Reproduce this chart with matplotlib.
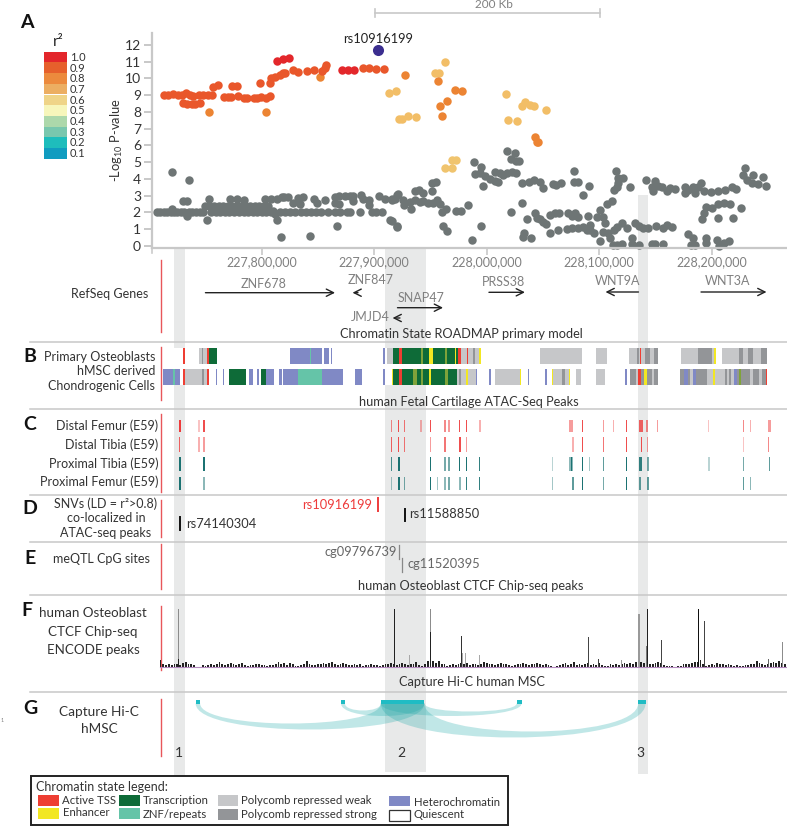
import matplotlib
matplotlib.use('Agg')
import matplotlib.pyplot as plt
import numpy as np
from matplotlib.colors import to_rgba
from matplotlib.patches import Rectangle, PathPatch
from matplotlib.path import Path
from matplotlib.ticker import FuncFormatter

plt.rcParams['font.family'] = ['Lato', 'DejaVu Sans']
plt.rcParams['mathtext.default'] = 'regular'

# all positions are kb from 227,800,000
START = 227800000

# panel A, association signal
gray_pos = [-93, -90, -87, -84, -81, -78, -75, -72, -69, -65, -62, -58, -55, -52, -80, -66, -49, -46.5, -80, -65, -69.6, -66.7,
            -50, -46, -42, -38, -34, -30, -26, -22, -18, -14, -10, -6, -2, 2, 6,
            -45, -41, -37, -33, -29, -25, -20, -16, -12, -8, -4, 0, 4, 8, 10, 12, 13.3,
            -28, -21.6, -15.7, 3, 8, 13.3, 17.8, 23, 27.5, 20, 32.6, 37, 34, 46.5, 49.5, 56, 65, 69, 74, 78.5, 81.5, 65, 69, 81, 88, 90, 95, 95.7,
            16, 21, 25, 30, 34.5, 39, 43.5, 48, 53, 59, 65, 69.6, 75.6, 78.5, 87.4, 98, 102, 106.7,
            17, 43, 66.7, 114, 120, 104.6, 109.6, 115.6, 120,
            115.6, 121.5, 118.5, 126, 126.7, 132.4, 131.9, 136.3, 140.7, 143.7, 148, 152, 156, 158.5, 160, 164,
            136.3, 140, 143.7, 151, 155, 151, 172.7, 177, 183, 115.6, 120.6, 161, 164.4, 194.7, 186.7,
            188.7, 194.7, 189.6, 194, 198.5, 203, 207.4, 210.4, 196.4, 207.4, 211.9, 214.8, 218.4, 222.2, 226,
            217.8, 225, 222, 226, 229, 231, 238, 242, 247.4, 250.4, 259.3, 262, 265.8,
            277.6, 277.6, 281.5, 291, 286, 231.4, 222, 236, 243, 244.4, 247.4, 250.4, 253, 256.3, 260.7, 264.3, 272.6, 278.5, 275.5, 281.5,
            289.8, 300.7, 297.8, 303.7, 305, 306.7, 311, 233.5, 232.6, 239.4, 256.3, 263.7, 271, 275.5, 281.5, 286, 292, 295.4, 292, 289,
            300.7, 303.7, 308, 309.6, 312.6, 315.6, 320, 313, 315.6, 320, 324.4, 332, 335, 339.3, 343, 350.5, 357, 360, 364.4,
            329.6, 329, 335, 346.7, 349.6, 356.4, 315, 317, 321.5, 316.4, 315.6, 313, 327.4,
            342, 349.6, 346.7, 348, 352.6, 355.6, 360, 363, 367.4, 376.3, 376.3, 379, 383.7, 385, 390.5, 388, 393, 399, 406, 412, 418, 422,
            430, 428, 437, 446, 431, 435.5, 441.5, 448.3, 406, 410.7, 416, 394.6, 400.6, 393, 391, 406, 419, 426,
            379, 383, 385, 382, 394.6, 394.6, 405, 406.7, 411, 415.6]
gray_logp = [2, 2, 2, 2, 2, 2, 2, 2, 2, 2, 2, 2, 2, 2, 2.2, 1.8, 1.55, 2.8, 4.42, 3.9, 2.7, 2.65,
             2.4, 2.4, 2.4, 2.4, 2.4, 2.4, 2.4, 2.4, 2.4, 2.4, 2.4, 2.4, 2.4, 2.4, 2.4,
             2, 2, 2, 2, 2, 2, 2, 2, 2, 2, 2, 2, 2, 2, 2.1, 1.9, 1.55,
             2.82, 2.8, 2.75, 2.8, 2.8, 2.8, 2.9, 2.9, 2.55, 2.9, 2.85, 2.9, 2.5, 2.8, 2.55, 2.75, 2.9, 2.95, 2.95, 3, 2.95, 2.55, 2.5, 2.65, 3.05, 2.8, 2.75, 2.45,
             2, 2, 2, 2, 2, 2, 2, 2, 2, 2, 2, 2, 2, 2, 2, 2, 2, 2,
             0.5, 0.57, 1.15, 1.55, 1.15, 2.95, 2.8, 2.8, 3.05,
             2.73, 3.1, 2.8, 2.73, 2.43, 2.17, 2.63, 2.73, 2.6, 2.67, 2.57, 2.53, 2.73, 2.5, 2.03, 2.17,
             3.27, 3.33, 3.17, 3.29, 3.78, 3.72, 2.09, 2.05, 2.43, 1.5, 1.14, 1.2, 0.9, 1.2, 0.36,
             5, 4.68, 4.28, 4.32, 4.18, 4, 3.86, 3.82, 3.59, 4.38, 4.36, 4.22, 4.32, 4.38, 4.34,
             5.66, 5.52, 5.18, 5.08, 5.04, 3.76, 3.78, 3.92, 3.82, 3.43, 3.69, 3.63, 3.73,
             4.48, 3.82, 3.82, 3.57, 3.03, 2.57, 2.01, 1.59, 1.93, 1.63, 1.59, 1.43, 1.29, 1.83, 1.93, 1.93, 1.93, 1.93, 1.77, 1.69,
             1.79, 2.13, 1.69, 1.73, 1.33, 2.49, 2.65, 0.78, 0.5, 0.44, 0.74, 0.94, 1, 1.04, 1.04, 1.14, 1.24, 0.74, 0.94, 0.94,
             0.3, 0.84, 0.74, 0.44, 0.04, 0.04, 0.08, 0.94, 1.14, 1.37, 1.04, 1.37, 1.18, 1.04, 1.08, 1.2, 1.04, 1.24, 1.1,
             0.48, 0.08, 0.04, 0.08, 0.08, 0.08, 4.46, 4.06, 4.02, 3.76, 3.49, 3.33, 3.49,
             3.9, 3.86, 3.53, 3.29, 3.59, 3.49, 3.29, 3.47, 3.39, 3.53, 3.13, 3.33, 3.49, 3.13, 3.73, 3.49, 3.29, 3.23, 3.29, 3.33, 3.53, 3.39,
             4.62, 4.22, 4.22, 4.12, 3.92, 3.76, 3.67, 3.59, 2.49, 2.53, 2.49, 2.33, 2.27, 1.93, 1.59, 1.65, 1.65, 2.23,
             0.7, 0.44, 0.04, 0.04, 0.44, 0.14, 0.34, 0, 0.18, 0.26]

r10_pos = [14, 19, 24, 71, 77, 82]
r10_logp = [11.05, 11.15, 11.2, 10.5, 10.5, 10.5]
r09_pos = [-86.8, -83, -78.5, -74, -71, -67, -64, -61, -56, -52, -48, -44, -70, -66, -62, -59, -55, -43, -38.5,
           -33.5, -30, -27, -21.5, -16, -13, -26, -22, -7, -4, -1, 3.5, 7.5, -1.5, 7.5, 8, 12, 16, 19, 21,
           27.5, 32.5, 40, 46.5, 53.5, 57, 56, 90, 95, 101.5, 109]
r09_logp = [9, 9, 9.05, 9, 9, 9.15, 9, 8.95, 9, 9, 9, 9, 8.5, 8.45, 8.45, 8.45, 8.5, 9.5, 9.6,
            8.9, 8.9, 8.9, 8.95, 8.85, 8.85, 9.55, 9.55, 8.85, 8.85, 8.9, 8.85, 8.95, 9.7, 9.7, 10, 10.1, 10.2, 10.3, 10.3,
            10.5, 10.4, 10.45, 10.5, 10.45, 10.8, 10.6, 10.6, 10.6, 10.55, 10.57]
r08_pos = [-47, 3.5, 52, 127.4, 156.4, 171.6, 177.8, 164.4, 158.5, 160.6, 243, 244.4, 246]
r08_logp = [8, 8, 10.1, 10.2, 9.85, 9.3, 9.25, 8.67, 8.37, 7.77, 6.5, 6.2, 6.2]
r07_pos = [113, 119, 122, 124.4, 129.8, 136.9, 163, 154, 157.6, 216.9, 219.3, 226.7, 231, 234, 238.5, 242, 252.7]
r07_logp = [9.1, 9.25, 7.6, 7.6, 7.77, 7.68, 11, 10.3, 10.3, 9.07, 7.5, 7.43, 8.35, 8.58, 8.43, 8.37, 8.1]
r06_pos = [163, 169, 169.5, 172.5]
r06_logp = [4.67, 4.63, 5.13, 5.15]
lead_pos = [103.7]
lead_logp = [11.7]

r2_labels = ['1.0', '0.9', '0.8', '0.7', '0.6', '0.5', '0.4', '0.3', '0.2', '0.1']
r2_colors = ['#E3262B', '#E6602C', '#EC8A3D', '#ECAE62', '#EFD488', '#F7F6BB', '#ADD8AB', '#79C7AE', '#1EBDBC', '#109CC0']

gene_names = ['ZNF678', 'ZNF847', 'SNAP47', 'JMJD4', 'PRSS38', 'WNT9A', 'WNT3A']
gene_from = [-50, 85.6, 120.7, 122.9, 202, 334.9, 390.5]
gene_to = [65.2, 80.7, 161.2, 116.3, 234, 305.6, 448.7]

# panel B, chromatin states, later rows in a list paint over earlier ones
state_colors = {'T': '#EE3E33', 'Y': '#F2E722', 'G': '#0E6B38', 'Z': '#65C4A8', 'L': '#C6C7C9',
                'D': '#939598', 'H': '#8089C5', 'O': '#7FA33A'}
osteo_start = [-69.9, -55.4, -53.3, -48.3, -46.8, 25.2, 43, 55.4, 61.3, 107.6, 111.7, 116.4, 122.4, 141.3, 149, 150.5, 163, 172, 174.8, 176.9,
               182.2, 187.5, 193.5, 247.4, 297.5, 326.8, 333.3, 336.3, 340.7, 348.7, 372.4, 388, 402, 408.9, 424.6, 432.6, 443.9]
osteo_end = [-68.4, -48.3, -51.9, -46.8, -40, 53.3, 44.1, 59.9, 62.8, 109.6, 116.4, 174.8, 124.4, 143.7, 150.2, 152.6, 164.4, 172.7, 176.9, 193.5,
             183, 189.3, 194.7, 284.7, 307, 352, 335.7, 336.9, 345.2, 352, 402, 400, 403.6, 449.5, 428.1, 437, 449.5]
osteo_state = ['T', 'L', 'D', 'T', 'G', 'H', 'Z', 'H', 'H', 'H', 'L', 'G', 'T', 'O', 'Y', 'Y', 'O', 'Y', 'T', 'L',
               'T', 'D', 'Y', 'L', 'L', 'L', 'D', 'T', 'D', 'D', 'L', 'D', 'Y', 'L', 'D', 'D', 'D']
chondro_start = [-88, -78.5, -70.2, -68.1, -53.3, -48.9, -40.9, -34.7, -28.7, -11.6, -3.9, -0.6, 4.1, 15.4, 19, 32.6, 53.6, 83.3, 107.6, 116.1, 117, 122.4,
                 124.4, 134.8, 141.3, 149, 163, 173.3, 175.1, 181.6, 183, 190.2, 201.8, 207.4, 229.6, 236.7, 251.9, 258, 258.9, 267, 273.5, 279.4, 297.2,
                 323, 327.4, 332.4, 334.8, 339.9, 346.7, 371.9, 375, 380.7, 383.7, 395.6, 401.5, 403.3, 413.3, 416.9, 420.1, 424.6, 434, 442.3, 448.4]
chondro_end = [-72.3, -77, -68.1, -48.9, -51, -47.1, -39.4, -33.2, -14.2, -8, -2.4, 4.1, 11, 18, 32.6, 53.6, 72.6, 88.9, 109.6, 117, 122.4, 124.4,
               173.3, 137.8, 143.7, 150.2, 165.9, 181.6, 176.9, 183.7, 190.2, 191.7, 203.6, 229.6, 230.5, 237.9, 254, 258.9, 273.5, 269.3, 274.4, 283.6, 305.2,
               324.7, 352.6, 334.8, 337.2, 342.2, 348.7, 449, 378.5, 383.7, 386, 403.3, 403.3, 411.9, 415.6, 419.9, 422.2, 425.9, 437, 444.4, 449]
chondro_state = ['H', 'Z', 'T', 'L', 'D', 'T', 'H', 'H', 'G', 'H', 'H', 'G', 'H', 'H', 'H', 'Z', 'H', 'H', 'H', 'Y', 'G', 'T',
                 'G', 'O', 'O', 'Y', 'O', 'L', 'D', 'Y', 'L', 'H', 'H', 'L', 'Y', 'H', 'H', 'Y', 'L', 'D', 'Y', 'L', 'L',
                 'H', 'D', 'L', 'T', 'Y', 'L', 'D', 'H', 'L', 'H', 'L', 'Y', 'L', 'L', 'L', 'H', 'O', 'L', 'L', 'T']

# panel C, ATAC peaks
femur_d_pos = [-72.9, -55.7, -51.3, 115.6, 122, 126.5, 141.3, 149.9, 163, 166.5, 176, 182.2, 193.8, 275, 285, 303.7, 312.6, 324.4, 336.9, 342.8, 351.7, 397.3, 428.4, 434.4, 451.3]
femur_d_wid = [1.5, 1.2, 1.2, 0.7, 0.9, 0.9, 1.8, 0.9, 1.8, 1.5, 1.2, 1.2, 1.5, 3, 0.9, 0.7, 0.7, 1.2, 3.6, 1.8, 0.9, 1.2, 1.5, 0.9, 2.4]
femur_d_alpha = [1, 0.3, 0.9, 0.6, 0.9, 0.7, 0.4, 0.9, 0.6, 0.5, 0.9, 0.9, 0.4, 0.5, 0.9, 0.5, 0.4, 0.9, 0.8, 0.6, 0.5, 0.3, 0.6, 0.4, 0.5]
tibia_d_pos = [-72.9, -55.7, -51.3, 115.6, 122, 126.5, 149.9, 163, 176, 182.2, 276.9, 285, 303.7, 324.4, 337.5, 342.8, 428.4, 450.4]
tibia_d_wid = [0.6, 1.2, 1.5, 0.7, 0.9, 0.9, 0.9, 1.5, 2, 0.9, 1.5, 0.9, 0.7, 1.2, 0.9, 0.9, 1.2, 0.9]
tibia_d_alpha = [0.8, 0.4, 0.5, 0.8, 0.9, 0.7, 0.5, 0.7, 0.9, 0.5, 0.4, 0.9, 0.7, 0.9, 0.9, 0.5, 0.3, 0.6]
tibia_p_pos = [-72.9, -51.3, 115.6, 122, 149.9, 163, 166.5, 176, 182.2, 193.8, 258.7, 275, 275.6, 285, 291.3, 303.7, 324.4, 336.9, 343.4, 397.3, 428.4, 451.3]
tibia_p_wid = [1.5, 1.5, 0.7, 1.2, 0.9, 2, 1.5, 1.2, 1.2, 0.9, 0.9, 3, 0.9, 0.9, 0.9, 0.7, 1.2, 3, 1.8, 1.5, 0.7, 1.2]
tibia_p_alpha = [1, 1, 0.8, 1, 1, 0.6, 0.6, 1, 1, 0.9, 0.3, 0.5, 1, 1, 0.4, 0.7, 1, 0.9, 0.6, 0.3, 0.6, 0.7]
femur_p_pos = [-72.9, -51.3, 115.6, 122, 126.5, 149.9, 156.3, 163, 166.5, 176, 182.2, 193.8, 258.7, 276.5, 285, 303.7, 324.4, 336.3, 343.1, 428.4, 434.4]
femur_p_wid = [1.5, 1.5, 0.6, 1.2, 0.9, 0.9, 0.9, 1.5, 1.5, 1.5, 0.9, 0.9, 0.9, 1.5, 0.9, 0.7, 1.2, 2.4, 1.8, 1.2, 1]
femur_p_alpha = [1, 0.5, 0.4, 1, 0.6, 1, 0.4, 0.5, 0.6, 0.5, 0.9, 0.9, 0.4, 0.7, 1, 0.6, 1, 0.7, 0.7, 0.7, 0.5]

# panel F, CTCF signal, one height per 2.5 kb bin from -90
ctcf_heights = [7, 3, 2, 3, 2, 3, 3, 2, 4, 5, 3, 3, 2, 0, 0, 2, 1, 2, 3, 2,
                3, 5, 3, 2, 3, 4, 3, 2, 3, 4, 2, 1, 2, 2, 3, 3, 2, 2, 1, 2,
                2, 3, 5, 3, 4, 2, 4, 3, 1, 1, 2, 3, 6, 3, 2, 2, 3, 3, 4, 3,
                4, 5, 3, 2, 3, 4, 3, 2, 2, 3, 2, 3, 1, 2, 2, 3, 2, 2, 1, 2,
                3, 3, 4, 3, 2, 3, 4, 3, 2, 3, 3, 5, 2, 1, 3, 6, 5, 6, 4, 6,
                3, 3, 1, 2, 3, 2, 3, 4, 3, 4, 2, 3, 3, 2, 3, 5, 4, 3, 3, 2,
                3, 4, 3, 3, 2, 1, 2, 3, 3, 4, 3, 2, 3, 3, 4, 3, 2, 3, 2, 1,
                0, 1, 2, 3, 4, 2, 3, 5, 2, 3, 2, 3, 4, 2, 3, 2, 4, 2, 1, 1,
                3, 2, 3, 2, 3, 4, 3, 4, 3, 5, 6, 5, 4, 4, 3, 3, 4, 5, 4, 2,
                1, 1, 1, 0, 1, 1, 3, 3, 3, 4, 5, 5, 7, 3, 1, 2, 3, 2, 4, 3,
                3, 2, 3, 2, 1, 2, 1, 1, 2, 2, 3, 3, 6, 4, 3, 2, 3, 4, 5, 4,
                6, 4, 3]
peak_pos = [-74, -74, 118.2, 131, 150.2, 150.2, 177.5, 178.5, 181, 193.5, 290.4, 299, 320, 335.4, 342.8, 342.3, 355.3, 388.2, 393.3, 463.1, 450.4]
peak_height = [58, 8, 58, 12, 58, 35, 31, 14, 14, 12, 30, 8, 7, 53, 58, 21, 27, 58, 46, 25, 8]
peak_color = ['#8C8C8C', '#222222', '#222222', '#A8A8A8', '#8C8C8C', '#222222', '#333333', '#A8A8A8', '#A8A8A8', '#A8A8A8',
              '#444444', '#444444', '#999999', '#999999', '#222222', '#777777', '#444444', '#111111', '#444444', '#8C8C8C', '#666666']

# panel G, capture Hi-C loops, bait and the four other ends
bait_end = [105.9, 144.6]
other_left = [-58.7, 70.5, 226.6, 334.6]
other_right = [-54.7, 74, 231, 341.2]
link_outer = [26, 12.5, 12.5, 34]
link_inner = [20, 7, 8, 28]

legend_names = ['Active TSS', 'Enhancer', 'Transcription', 'ZNF/repeats', 'Polycomb repressed weak', 'Polycomb repressed strong', 'Heterochromatin', 'Quiescent']


def bp(kb):
    return START + np.asarray(kb, dtype=float) * 1000


W, H = 787, 826
fig = plt.figure(figsize=(W / 100, H / 100), dpi=100)
GRID = '#C8C8C8'
RED = '#E8565A'
TXT = '#333333'
GENE = '#808080'

# page axes in pixels, for the layout and the words
page = fig.add_axes([0, 0, 1, 1], zorder=0)
page.set_xlim(0, W)
page.set_ylim(H, 0)
page.axis('off')


def say(x, y, s, size=9, color=TXT, ha='center', **kw):
    page.text(x, y, s, fontsize=size, color=color, ha=ha, va='center', **kw)


for x0, x1, y0 in [(174.3, 185, 248), (385, 425.7, 248), (638.3, 647.7, 195)]:
    y1 = {174.3: 777.5, 385: 771.7, 638.3: 774}[x0]
    page.add_patch(Rectangle((x0, y0), x1 - x0, y1 - y0, fc='#E8E9E9', ec='none', zorder=1))
page.add_patch(Rectangle((163, 348), 624, 37, fc='white', ec='none', zorder=1.5))

for y in [342.3, 409.3, 495, 542, 594.7, 692.3]:
    page.plot([30, W], [y, y], color=GRID, lw=1.1, zorder=2)
for y0, y1 in [(260, 332), (347, 400), (414, 492), (500, 537), (544, 589), (606, 670), (699, 756)]:
    page.plot([161, 161], [y0, y1], color=RED, lw=1.0, zorder=2)
page.plot([152, 152], [248, 253], color=GRID, lw=1.15)

for x, y, s in [(27, 23, 'A'), (30, 357, 'B'), (30, 424, 'C'), (30, 509, 'D'), (29.5, 558, 'E'), (27, 610, 'F'), (30, 709, 'G')]:
    say(x, y, s, size=14, color='#111111', fontweight='bold')

say(58, 42, 'r²', size=11, color='#222222')
for i, lab in enumerate(r2_labels):
    y = 51.7 + i * 10.7
    page.add_patch(Rectangle((44, y), 23, 10.7, fc=r2_colors[i], ec='none'))
    say(70, y + 5.6, lab, size=8, ha='left')

# scale bar
page.plot([375, 600], [13, 13], color=GRID, lw=1.2)
page.plot([375, 375], [9, 17], color=GRID, lw=1.2)
page.plot([600, 600], [9, 17], color=GRID, lw=1.2)
say(494, 5, '200 Kb', color=GENE, size=8.5)

say(148.5, 294, 'RefSeq Genes', ha='right')
for y, s in [(356.7, 'Primary Osteoblasts'), (371, 'hMSC derived'), (386, 'Chondrogenic Cells')]:
    say(155, y, s, ha='right')
for y, s in [(426, 'Distal Femur (E59)'), (445, 'Distal Tibia (E59)'), (463.3, 'Proximal Tibia (E59)'), (482, 'Proximal Femur (E59)')]:
    say(158.3, y, s, ha='right')
for y, s in [(503.3, 'SNVs (LD = r²>0.8)'), (518.3, 'co-localized in'), (533.3, 'ATAC-seq peaks')]:
    say(106, y, s)
say(101, 558.7, 'meQTL CpG sites')
for y, s in [(613, 'human Osteoblast'), (632, 'CTCF Chip-seq'), (650, 'ENCODE peaks')]:
    say(93, y, s, size=9.6)
say(99, 711.7, 'Capture Hi-C', size=9.8)
say(99, 729, 'hMSC', size=9.8)
say(1, 720.7, '1', size=4, color=GENE, ha='left')

say(461, 334, 'Chromatin State ROADMAP primary model', size=9.2)
say(469, 402, 'human Fetal Cartilage ATAC-Seq Peaks', size=9.2)
say(471, 586, 'human Osteoblast CTCF Chip-seq peaks', size=9.2)
say(472, 682, 'Capture Hi-C human MSC', size=9.2)
say(372, 505, 'rs10916199', color='#EE3B3B', ha='right', size=9.3)
say(185.7, 524, 'rs74140304', ha='left', size=9.3)
say(409, 514, 'rs11588850', ha='left', size=9.3)
say(397, 552, 'cg09796739', color='#666666', ha='right', size=9.3)
say(407, 564, 'cg11520395', color='#666666', ha='left', size=9.3)
say(179, 752.7, '1', size=10)
say(401.5, 752.7, '2', size=10)
say(640, 752.7, '3', size=10)

# legend box
page.add_patch(Rectangle((31, 775.7), 476.5, 49, fc='white', ec='#222222', lw=1.4, zorder=4))
say(36, 786.7, 'Chromatin state legend:', ha='left', size=9, zorder=5)
swatch_x = [38, 38, 119, 119, 217.5, 217.5, 389, 389]
swatch_y = [795, 808.3, 795, 808.3, 795, 809, 795.7, 810]
label_x = [62.5, 62.5, 142.5, 142.5, 241, 241, 414, 414]
label_y = [800, 812.5, 800, 814, 800, 814, 803, 814]
swatch_c = [state_colors['T'], state_colors['Y'], state_colors['G'], state_colors['Z'], state_colors['L'], state_colors['D'], state_colors['H'], 'white']
for i, name in enumerate(legend_names):
    edge = '#333333' if name == 'Quiescent' else 'none'
    page.add_patch(Rectangle((swatch_x[i], swatch_y[i]), 20.5, 10.5, fc=swatch_c[i], ec=edge, lw=0.9, zorder=5))
    say(label_x[i], label_y[i], name, ha='left', size=8.2, zorder=5)

# tracks axes: genome on x, pixels on y
track = fig.add_axes([0, 0, 1, 1], zorder=2)
track.patch.set_alpha(0)
track.axis('off')
track.set_xlim(bp(-232.62), bp(466.93))
track.set_ylim(H, 0)


def kb_text(pos, y, s):
    track.text(bp(pos), y, s, fontsize=9, color=GENE, ha='center', va='center')


gene_text_pos = [2, 97.2, 141.8, 96.7, 214.5, 316, 414.2]
gene_text_y = [284, 280, 297.7, 317.3, 282, 281, 281]
gene_y = [292.7, 292.7, 307.7, 318, 292.3, 292, 292]
for i, name in enumerate(gene_names):
    kb_text(gene_text_pos[i], gene_text_y[i], name)
    track.annotate('', xy=(bp(gene_to[i]), gene_y[i]), xytext=(bp(gene_from[i]), gene_y[i]),
                   arrowprops=dict(arrowstyle='->', color='#222222', lw=1.0, mutation_scale=13, shrinkA=0, shrinkB=0))

for starts, ends, states, y0, y1 in [(osteo_start, osteo_end, osteo_state, 348.3, 364.3),
                                     (chondro_start, chondro_end, chondro_state, 369, 385)]:
    for s, e, st in zip(starts, ends, states):
        track.bar(bp(s), y1 - y0, width=(e - s) * 1000, bottom=y0, align='edge', color=state_colors[st], lw=0)

atac_rows = [(femur_d_pos, femur_d_wid, femur_d_alpha, '#EE3B3B', 420, 432.3),
             (tibia_d_pos, tibia_d_wid, tibia_d_alpha, '#EE3B3B', 437.3, 451.7),
             (tibia_p_pos, tibia_p_wid, tibia_p_alpha, '#1B7272', 456.7, 470.7),
             (femur_p_pos, femur_p_wid, femur_p_alpha, '#1B7272', 477.3, 490)]
for pos, wid, alpha, col, y0, y1 in atac_rows:
    cols = [to_rgba(col, a) for a in alpha]
    track.bar(bp(pos), y1 - y0, width=np.array(wid) * 1000, bottom=y0, color=cols, lw=0)

# SNV and CpG marks
for pos, y0, y1, col, lw in [(103.1, 498, 511, '#EE3B3B', 1.4), (-73, 516.7, 530, '#111111', 1.4), (127.4, 509, 521, '#111111', 1.4),
                             (122.1, 545, 559, '#888888', 0.9), (124.7, 558, 572, '#888888', 0.9)]:
    track.plot([bp(pos), bp(pos)], [y0, y1], color=col, lw=lw)

# CTCF
BASE = 667.3
ctcf_pos = -90 + 2.5 * np.arange(len(ctcf_heights))
track.plot(bp([-90, 466]), [BASE, BASE], color='#B58BC0', lw=0.8)
track.bar(bp(ctcf_pos), -np.array(ctcf_heights), width=1600, bottom=BASE, color='#222222', lw=0)
track.bar(bp(peak_pos), -np.array(peak_height), width=1000, bottom=BASE, color=peak_color, lw=0)

# Hi-C arcs
LOOP_Y = 703.5
TEAL = '#1FA9A9'
for i in range(4):
    left_side = other_left[i] < bait_end[0]
    if left_side:
        ox0, ox1, ix0, ix1 = other_left[i], bait_end[1], other_right[i], bait_end[0]
    else:
        ox0, ox1, ix0, ix1 = bait_end[0], other_right[i], bait_end[1], other_left[i]
    d_o = link_outer[i] / 0.75
    d_i = link_inner[i] / 0.75
    verts = [(bp(ox0), LOOP_Y), (bp(ox0), LOOP_Y + d_o), (bp(ox1), LOOP_Y + d_o), (bp(ox1), LOOP_Y),
             (bp(ix1), LOOP_Y), (bp(ix1), LOOP_Y + d_i), (bp(ix0), LOOP_Y + d_i), (bp(ix0), LOOP_Y), (bp(ox0), LOOP_Y)]
    codes = [Path.MOVETO, Path.CURVE4, Path.CURVE4, Path.CURVE4, Path.LINETO, Path.CURVE4, Path.CURVE4, Path.CURVE4, Path.CLOSEPOLY]
    track.add_patch(PathPatch(Path(verts, codes), fc=TEAL, ec='none', alpha=0.28))
    track.bar(bp(other_left[i]), 3.5, width=(other_right[i] - other_left[i]) * 1000, bottom=700, align='edge', color='#1FBCC4', lw=0)
track.bar(bp(bait_end[0]), 3.5, width=(bait_end[1] - bait_end[0]) * 1000, bottom=700, align='edge', color='#1FBCC4', lw=0)

# panel A
ax = fig.add_axes([152 / W, 1 - 248 / H, (W - 152) / W, 215 / H], zorder=3)
ax.patch.set_alpha(0)
ax.set_xlim(bp(-97.5), bp(466.93))
ax.set_ylim(-0.137, 12.71)
dot = 37
ax.scatter(bp(gray_pos), gray_logp, s=dot, color='#6E7575', lw=0, clip_on=False)
for pos, logp, col in [(r06_pos, r06_logp, '#F0C46E'), (r07_pos, r07_logp, '#F2BE67'), (r08_pos, r08_logp, '#EC8433'),
                       (r09_pos, r09_logp, '#E9572B'), (r10_pos, r10_logp, '#E3272B')]:
    ax.scatter(bp(pos), logp, s=dot, color=col, lw=0)
ax.scatter(bp(lead_pos), lead_logp, s=64, color='#3B2E8F', lw=0)
ax.text(bp(lead_pos[0]), 12.35, 'rs10916199', fontsize=9.3, color='#222222', ha='center', va='center')
for side in ['top', 'right']:
    ax.spines[side].set_visible(False)
for side in ['left', 'bottom']:
    ax.spines[side].set_color(GRID)
    ax.spines[side].set_linewidth(1.6)
ax.set_yticks(range(0, 13))
ax.tick_params(axis='y', colors=GRID, width=1.4, length=6, labelcolor='#333333', labelsize=10, pad=2)
ax.set_xticks(bp([0, 100, 200, 300, 400]))
ax.xaxis.set_major_formatter(FuncFormatter(lambda v, p: f'{int(round(v)):,}'))
ax.tick_params(axis='x', colors=GRID, width=1.2, length=5, labelcolor=GENE, labelsize=9, pad=1)
say(117, 140, '-Log$_{10}$ P-value', rotation=90, size=9.3)

fig.savefig('out.png', dpi=100)
